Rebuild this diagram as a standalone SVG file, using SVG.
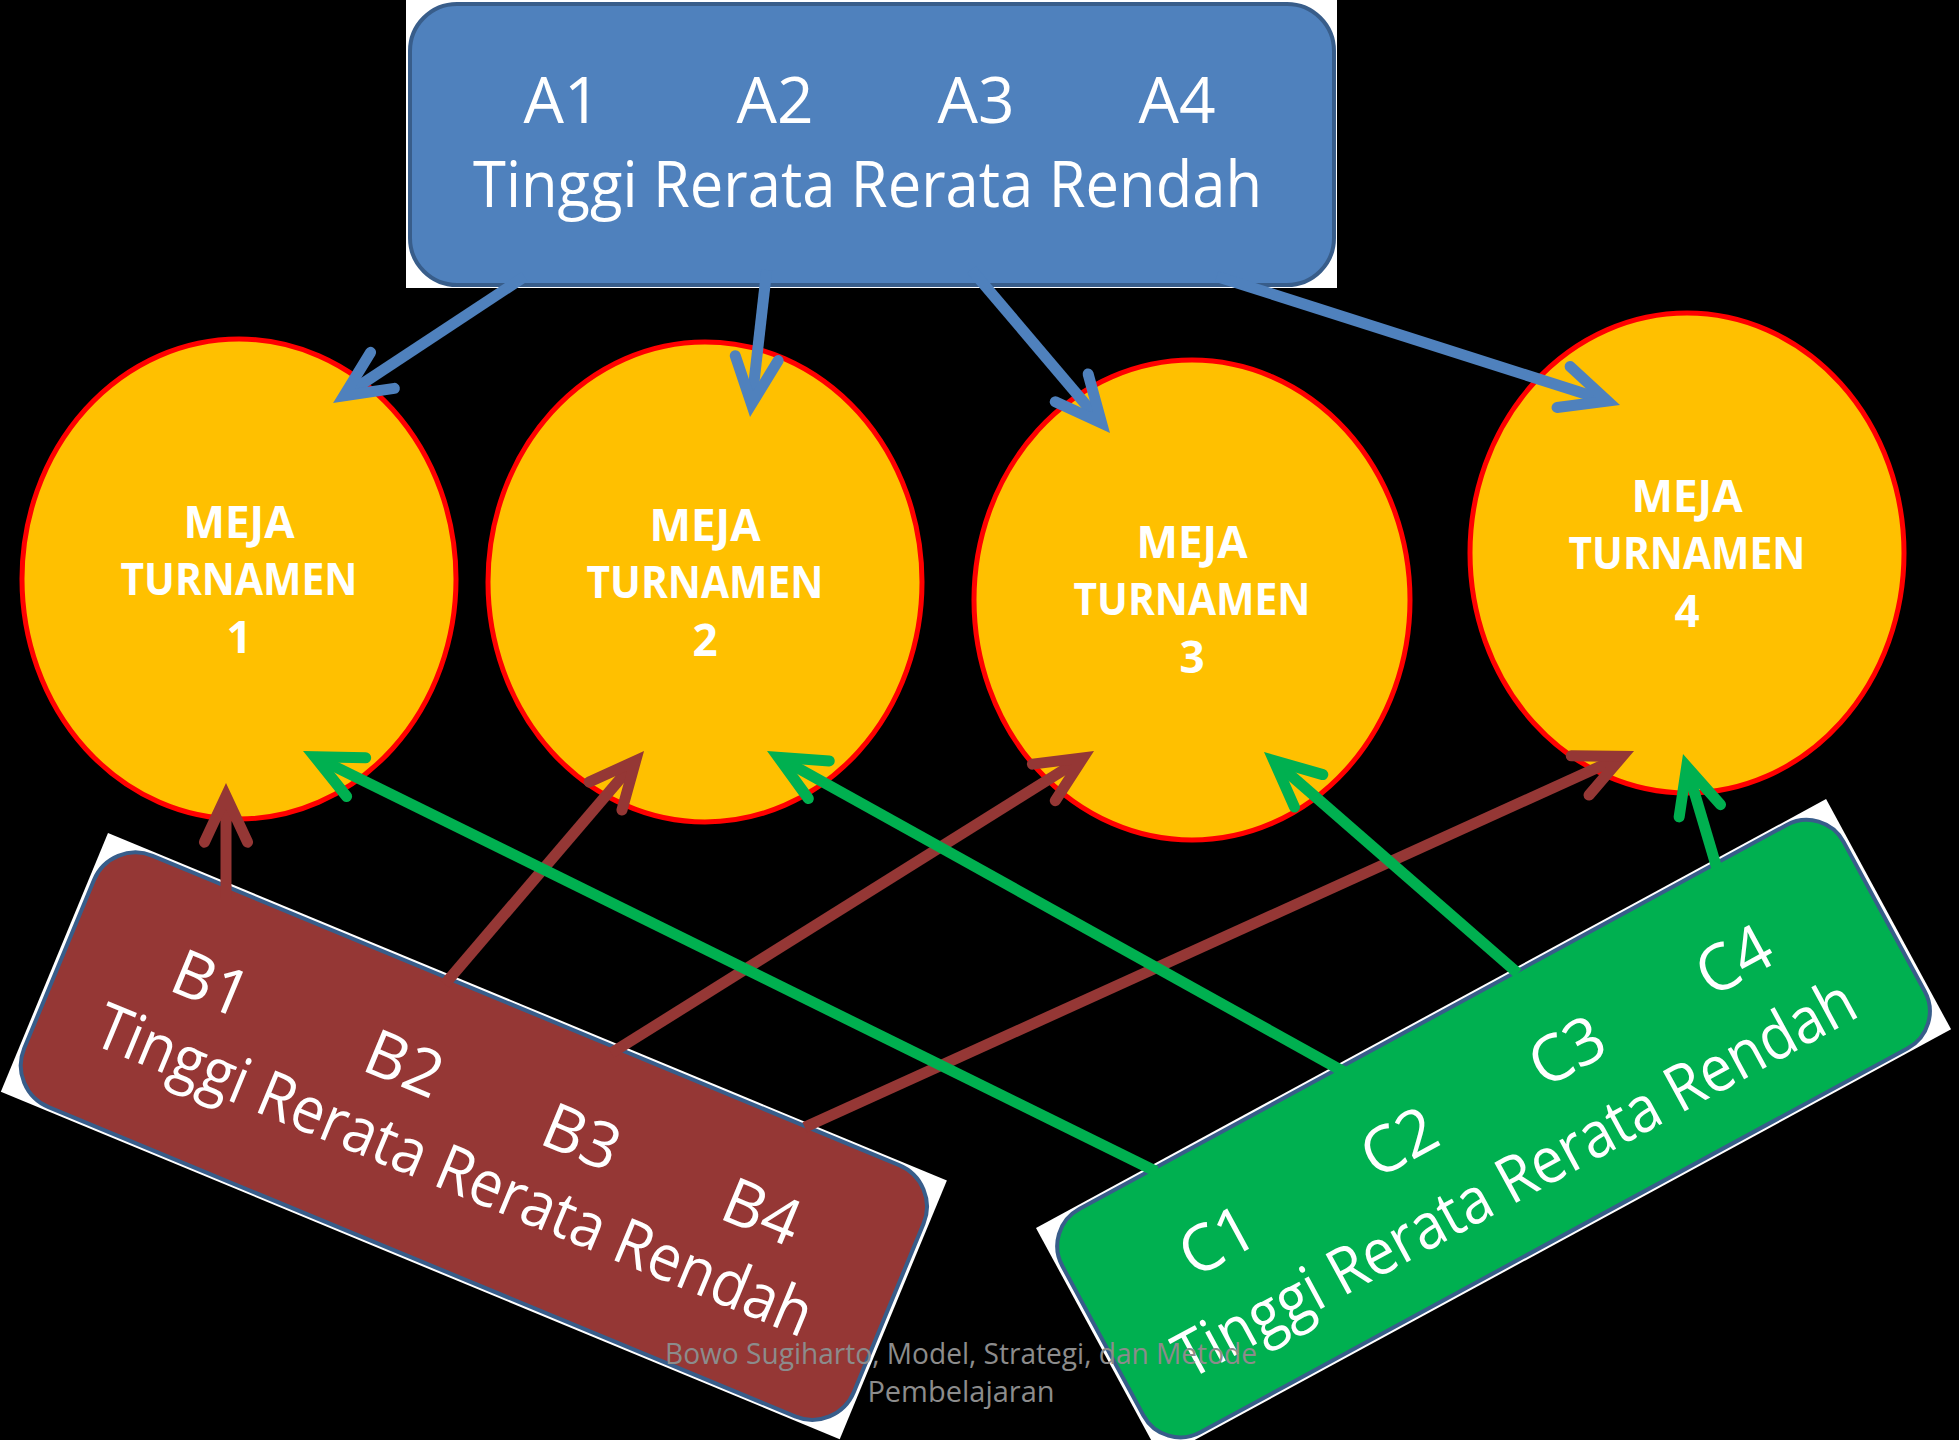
<svg xmlns="http://www.w3.org/2000/svg" width="1959" height="1440" viewBox="0 0 1959 1440">
<style>
.bg{fill:#000000}
.wbg{fill:#ffffff}
.tbl{fill:#FFC000;stroke:#FF0000;stroke-width:5}
.mt{font-family:"Open Sans","Liberation Sans",sans-serif;font-weight:bold;font-size:44px;fill:#ffffff;text-anchor:middle}
.lbl{font-family:"Open Sans","Liberation Sans",sans-serif;font-size:64px;fill:#ffffff}
.mid{text-anchor:middle}
.boxA{fill:#4F81BD;stroke:#385D8A;stroke-width:4}
.boxB{fill:#953735;stroke:#385D8A;stroke-width:4}
.boxC{fill:#00B050;stroke:#385D8A;stroke-width:4}
.ab{stroke:#4F81BD;stroke-width:11;fill:none}
.mb{stroke:#953735;stroke-width:11;fill:none}
.gb{stroke:#00B050;stroke-width:11;fill:none}
.foot{font-family:"Open Sans","Liberation Sans",sans-serif;font-size:29px;fill:#8C8C8C;text-anchor:middle}
</style>
<defs>
<marker id="hb" markerUnits="strokeWidth" orient="auto" refX="0" refY="0" markerWidth="7" markerHeight="6" viewBox="-6 -3 7 6" overflow="visible">
<path d="M -4.2 -1.96 L 0 0 L -4.2 1.96" fill="none" stroke="#4F81BD" stroke-width="1" stroke-linecap="round" stroke-linejoin="miter"/>
</marker>
<marker id="hm" markerUnits="strokeWidth" orient="auto" refX="0" refY="0" markerWidth="7" markerHeight="6" viewBox="-6 -3 7 6" overflow="visible">
<path d="M -4.2 -1.96 L 0 0 L -4.2 1.96" fill="none" stroke="#953735" stroke-width="1" stroke-linecap="round" stroke-linejoin="miter"/>
</marker>
<marker id="hg" markerUnits="strokeWidth" orient="auto" refX="0" refY="0" markerWidth="7" markerHeight="6" viewBox="-6 -3 7 6" overflow="visible">
<path d="M -4.2 -1.96 L 0 0 L -4.2 1.96" fill="none" stroke="#00B050" stroke-width="1" stroke-linecap="round" stroke-linejoin="miter"/>
</marker>
</defs>
<rect class="bg" x="0" y="0" width="1959" height="1440"/>

<g id="meja1">
<ellipse class="tbl" cx="239" cy="579" rx="217" ry="240"/>
<text class="mt" x="239" y="538">MEJA</text>
<text class="mt" x="239" y="595" textLength="237" lengthAdjust="spacingAndGlyphs">TURNAMEN</text>
<text class="mt" x="239" y="653">1</text>
</g>
<g id="meja2">
<ellipse class="tbl" cx="705" cy="582" rx="217" ry="240"/>
<text class="mt" x="705" y="541">MEJA</text>
<text class="mt" x="705" y="598" textLength="237" lengthAdjust="spacingAndGlyphs">TURNAMEN</text>
<text class="mt" x="705" y="656">2</text>
</g>
<g id="meja3">
<ellipse class="tbl" cx="1192" cy="600" rx="218" ry="240"/>
<text class="mt" x="1192" y="558">MEJA</text>
<text class="mt" x="1192" y="615" textLength="237" lengthAdjust="spacingAndGlyphs">TURNAMEN</text>
<text class="mt" x="1192" y="673">3</text>
</g>
<g id="meja4">
<ellipse class="tbl" cx="1687" cy="553" rx="217" ry="240"/>
<text class="mt" x="1687" y="512">MEJA</text>
<text class="mt" x="1687" y="569" textLength="237" lengthAdjust="spacingAndGlyphs">TURNAMEN</text>
<text class="mt" x="1687" y="627">4</text>
</g>

<g id="kelompokA">
<rect class="wbg" x="406" y="0" width="931" height="288"/>
<rect class="boxA" x="410" y="4" width="924" height="281" rx="47" ry="47"/>
<text class="lbl mid" x="562" y="123">A1</text>
<text class="lbl mid" x="775" y="123">A2</text>
<text class="lbl mid" x="976" y="123">A3</text>
<text class="lbl mid" x="1177" y="123">A4</text>
<text class="lbl" x="473" y="207" textLength="789" lengthAdjust="spacingAndGlyphs">Tinggi Rerata Rerata Rendah</text>
</g>

<g id="kelompokB" transform="translate(108,833) rotate(22.5)">
<rect class="wbg" x="0" y="0" width="908" height="280"/>
<rect class="boxB" x="5" y="4" width="898" height="272" rx="45" ry="45"/>
<text class="lbl mid" x="153" y="122">B1</text>
<text class="lbl mid" x="362" y="122">B2</text>
<text class="lbl mid" x="554" y="122">B3</text>
<text class="lbl mid" x="749" y="122">B4</text>
<text class="lbl" x="64" y="201" textLength="770" lengthAdjust="spacingAndGlyphs">Tinggi Rerata Rerata Rendah</text>
</g>

<g id="kelompokC" transform="translate(1036,1228) rotate(-28.5)">
<rect class="wbg" x="0" y="0" width="899" height="262"/>
<rect class="boxC" x="5" y="4" width="889" height="254" rx="42" ry="42"/>
<text class="lbl mid" x="153" y="120">C1</text>
<text class="lbl mid" x="360" y="120">C2</text>
<text class="lbl mid" x="551" y="120">C3</text>
<text class="lbl mid" x="741" y="120">C4</text>
<text class="lbl" x="62" y="207" textLength="765" lengthAdjust="spacingAndGlyphs">Tinggi Rerata Rerata Rendah</text>
</g>

<g id="connectors">
<line class="ab" x1="524.5" y1="276.7" x2="343.9" y2="395.8" marker-end="url(#hb)"/>
<line class="ab" x1="766.7" y1="270.1" x2="751.5" y2="404.1" marker-end="url(#hb)"/>
<line class="ab" x1="971.3" y1="269.6" x2="1101.6" y2="423.1" marker-end="url(#hb)"/>
<line class="ab" x1="1216.7" y1="276.4" x2="1607.6" y2="401.0" marker-end="url(#hb)"/>
<line class="mb" x1="226" y1="898" x2="226" y2="796" marker-end="url(#hm)"/>
<line class="mb" x1="444.8" y1="984.1" x2="635.6" y2="760.9" marker-end="url(#hm)"/>
<line class="mb" x1="611.2" y1="1053.2" x2="1083" y2="757.9" marker-end="url(#hm)"/>
<line class="mb" x1="804.7" y1="1127.3" x2="1622.2" y2="756.4" marker-end="url(#hm)"/>
<line class="gb" x1="1156.2" y1="1171.5" x2="314.7" y2="756.7" marker-end="url(#hg)"/>
<line class="gb" x1="1344" y1="1071.9" x2="778.4" y2="757.3" marker-end="url(#hg)"/>
<line class="gb" x1="1518" y1="973.3" x2="1273.8" y2="760.5" marker-end="url(#hg)"/>
<line class="gb" x1="1717.3" y1="869.7" x2="1686.7" y2="766.5" marker-end="url(#hg)"/>
</g>

<g id="footer">
<text class="foot" x="961" y="1364" textLength="592" lengthAdjust="spacingAndGlyphs">Bowo Sugiharto, Model, Strategi, dan Metode</text>
<text class="foot" x="961" y="1402">Pembelajaran</text>
</g>
</svg>
